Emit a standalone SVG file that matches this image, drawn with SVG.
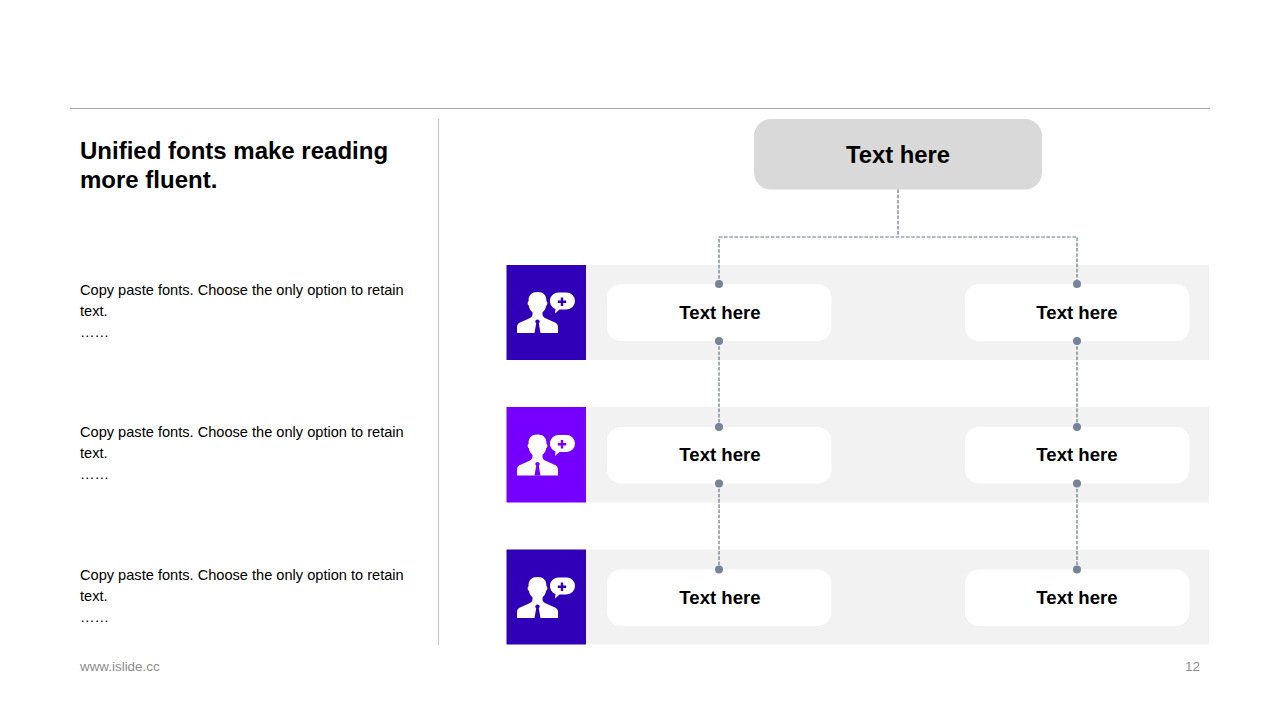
<svg xmlns="http://www.w3.org/2000/svg" xmlns:xlink="http://www.w3.org/1999/xlink" width="1280" height="720" viewBox="0 0 1280 720">
<style>
text{font-family:"Liberation Sans",Arial,sans-serif;fill:#000}
.h{font-size:24px;font-weight:700}
.b{font-size:14.6px}
.n{font-size:18.6px;font-weight:700;text-anchor:middle}
.f{font-size:13.4px;fill:#8c8c8c}
.c{fill:none;stroke:#667389;stroke-width:1.2;stroke-dasharray:3.6 1.6}
.d{fill:#76839b}
.band{fill:#f2f2f2}
.card{fill:#fff}
</style>
<defs>
<g id="icon">
<path fill="#fff" d="M517 333v-6c0-2 1-3.500 3-4.500l9.500-4.200c2-1 3-2.300 3-3.800v-2.200c-2-1.500-3.300-3.900-3.600-6.500-1-.5-1.400-2-1.200-3.300.1-.6.4-1 .9-1.200-.4-6 3-9.300 8.900-9.300s9.300 3.300 8.900 9.300c.5.200.8.600.9 1.200.2 1.300-.2 2.800-1.200 3.300-.3 2.600-1.600 5-3.600 6.500v2.200c0 1.500 1 2.800 3 3.800l9.500 4.200c2 1 3 2.500 3 4.500v6z"/>
<path fill="#fff" d="M558.500 292.500h8a8.500 8.500 0 0 1 0 17h-7l-4.500 4 .5-4.500a8.500 8.500 0 0 1 3-16.500z"/>
</g>
<path id="mark" d="M560.800 297.500h2.400v3h3v2.400h-3v3h-2.400v-3h-3v-2.400h3zM537.500 319.500c1.300 0 2.200.9 2.200 2 0 .8-.4 1.300-.9 1.800l1.700 9.700h-6l1.700-9.700c-.5-.5-.9-1-.9-1.800 0-1.100.9-2 2.200-2z"/>
</defs>
<rect width="1280" height="720" fill="#fff"/>
<line x1="70" y1="108.500" x2="1210" y2="108.500" stroke="#a6a6a6" stroke-width="1"/>
<line x1="438.500" y1="119" x2="438.500" y2="645" stroke="#bfbfbf" stroke-width="1"/>
<g id="left-text">
<text class="h" x="80" y="158.500">Unified fonts make reading</text>
<text class="h" x="80" y="187.500">more fluent.</text>
<text class="b" x="80" y="295">Copy paste fonts. Choose the only option to retain</text>
<text class="b" x="80" y="316">text.</text>
<text class="b" x="80" y="337">……</text>
<text class="b" x="80" y="437">Copy paste fonts. Choose the only option to retain</text>
<text class="b" x="80" y="458">text.</text>
<text class="b" x="80" y="479">……</text>
<text class="b" x="80" y="580">Copy paste fonts. Choose the only option to retain</text>
<text class="b" x="80" y="601">text.</text>
<text class="b" x="80" y="622">……</text>
</g>
<g id="band-1"><rect class="band" x="586" y="265" width="623" height="95"/><rect x="506.500" y="265" width="79.500" height="95" fill="#2f00b8"/><use xlink:href="#icon" href="#icon"/><use href="#mark" xlink:href="#mark" fill="#2f00b8"/></g>
<g id="band-2"><rect class="band" x="586" y="407" width="623" height="95.500"/><rect x="506.500" y="407" width="79.500" height="95.500" fill="#7600ff"/><use href="#icon" xlink:href="#icon" y="142.500"/><use href="#mark" xlink:href="#mark" y="142.500" fill="#7600ff"/></g>
<g id="band-3"><rect class="band" x="586" y="549.500" width="623" height="95"/><rect x="506.500" y="549.500" width="79.500" height="95" fill="#2f00b8"/><use href="#icon" xlink:href="#icon" y="285"/><use href="#mark" xlink:href="#mark" y="285" fill="#2f00b8"/></g>
<g id="node-top"><rect x="754" y="119" width="288" height="70.500" rx="17" fill="#d9d9d9"/><text x="898" y="163" text-anchor="middle" font-size="23.800" font-weight="700">Text here</text></g>
<g id="node-1"><rect class="card" x="607" y="284" width="224.500" height="57" rx="14"/><text class="n" x="720" y="319">Text here</text></g>
<g id="node-2"><rect class="card" x="965" y="284" width="224.500" height="57" rx="14"/><text class="n" x="1077" y="319">Text here</text></g>
<g id="node-3"><rect class="card" x="607" y="427" width="224.500" height="56.500" rx="14"/><text class="n" x="720" y="461">Text here</text></g>
<g id="node-4"><rect class="card" x="965" y="427" width="224.500" height="56.500" rx="14"/><text class="n" x="1077" y="461">Text here</text></g>
<g id="node-5"><rect class="card" x="607" y="569.500" width="224.500" height="56.500" rx="14"/><text class="n" x="720" y="604">Text here</text></g>
<g id="node-6"><rect class="card" x="965" y="569.500" width="224.500" height="56.500" rx="14"/><text class="n" x="1077" y="604">Text here</text></g>
<g id="connectors">
<path class="c" d="M898 189.500V237M719 284V237H1077V284"/>
<path class="c" d="M719 341V427M1077 341V427M719 483.500V569.500M1077 483.500V569.500"/>
<circle class="d" cx="719" cy="284" r="4"/><circle class="d" cx="1077" cy="284" r="4"/>
<circle class="d" cx="719" cy="341" r="4"/><circle class="d" cx="1077" cy="341" r="4"/>
<circle class="d" cx="719" cy="427" r="4"/><circle class="d" cx="1077" cy="427" r="4"/>
<circle class="d" cx="719" cy="483.500" r="4"/><circle class="d" cx="1077" cy="483.500" r="4"/>
<circle class="d" cx="719" cy="569.500" r="4"/><circle class="d" cx="1077" cy="569.500" r="4"/>
</g>
<g id="footer">
<text class="f" x="80" y="671">www.islide.cc</text>
<text class="f" x="1185" y="671">12</text>
</g>
</svg>
